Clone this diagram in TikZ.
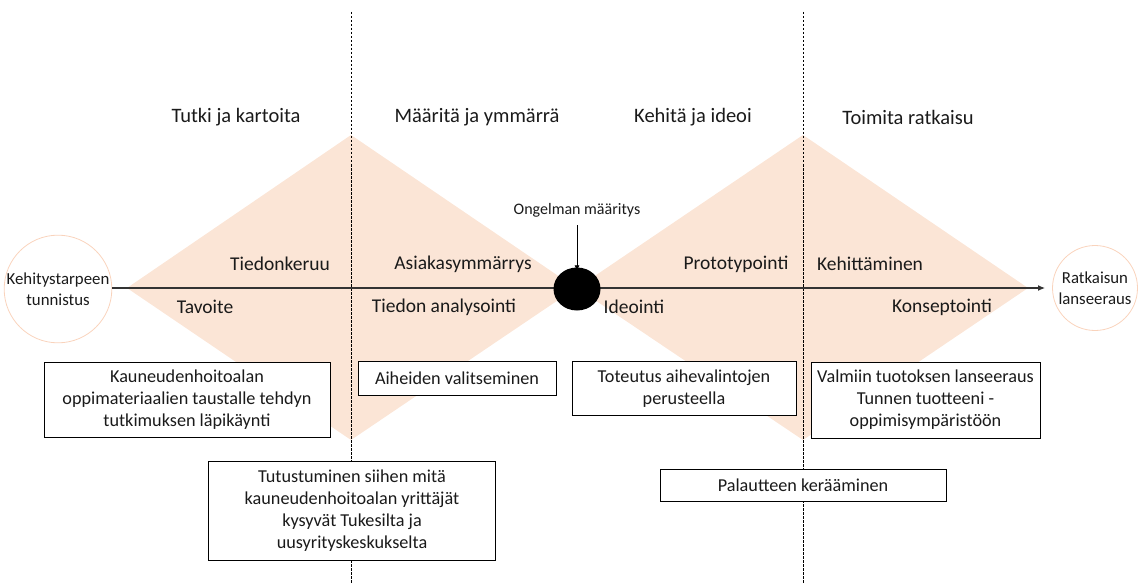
\documentclass[tikz,border=0pt]{standalone}
\usepackage{fontspec}
\setmainfont{Carlito}
\usetikzlibrary{arrows.meta,shapes.geometric}
\definecolor{peach}{HTML}{FBE5D6}
\definecolor{peachline}{HTML}{F9D3BC}
\definecolor{txt}{HTML}{1A1A1A}
\tikzset{
  lbl/.style={font=\fontsize{19.5}{23}\selectfont, text=txt, inner sep=0pt},
  ttl/.style={font=\fontsize{20.5}{24}\selectfont, text=txt, inner sep=0pt},
  boxt/.style={draw=black, line width=0.9pt, fill=white, font=\fontsize{18.2}{22}\selectfont, text=txt, align=center, inner sep=0pt},
  endc/.style={circle, draw=peachline, line width=0.8pt, minimum size=85pt, inner sep=0pt, align=center, font=\fontsize{16.8}{21.5}\selectfont, text=txt},
  divider/.style={black, line width=0.6pt, dash pattern=on 2.5pt off 1.5pt},
}
\begin{document}
\begin{tikzpicture}[x=1pt,y=-1pt]
\useasboundingbox (0,0) rectangle (1138,583);
% diamonds
\fill[peach] (127,288) -- (351,135) -- (576,288) -- (351,440) -- cycle;
\fill[peach] (577,288) -- (803,135) -- (1028,288) -- (803,440) -- cycle;
% dividers
\coordinate (d1t) at (351,12); \coordinate (d1b) at (351,583);
\coordinate (d2t) at (803,12); \coordinate (d2b) at (803,583);
\draw[divider] (d1t) -- (d1b);
\draw[divider] (d2t) -- (d2b);
% end circles
\node[endc] (start) at (58,289) {Kehitystarpeen\\tunnistus};
\node[endc] (finish) at (1095,288) {Ratkaisun\\lanseeraus};
% main line
\coordinate (ls) at (112,288);
\coordinate (le) at (1045,288);
\draw[line width=1.1pt, draw=black!80, -{Latex[length=7pt,width=6pt]}] (ls) -- (le);
% center ellipse
\node[ellipse, fill=black, minimum width=47pt, minimum height=43pt, inner sep=0pt] (prob) at (577,289) {};
\node[font=\fontsize{16}{19}\selectfont, text=txt, inner sep=0pt] (probl) at (577,210) {Ongelman määritys};
\draw[line width=0.8pt, -{Latex[length=6pt,width=5pt]}] ([yshift=-8pt]probl.south) -- ([yshift=-4pt]prob.north);
% phase titles
\node[ttl] (t1) at (236,117) {Tutki ja kartoita};
\node[ttl] (t2) at (477,117) {Määritä ja ymmärrä};
\node[ttl] (t3) at (693,117) {Kehitä ja ideoi};
\node[ttl] (t4) at (908,117) {Toimita ratkaisu};
% labels
\node[lbl] (a1) at (280,264) {Tiedonkeruu};
\node[lbl] (a2) at (463,264) {Asiakasymmärrys};
\node[lbl] (a3) at (736,264) {Prototypointi};
\node[lbl] (a4) at (870,264) {Kehittäminen};
\node[lbl] (b1) at (205,307) {Tavoite};
\node[lbl] (b2) at (444,307) {Tiedon analysointi};
\node[lbl] (b3) at (634,307) {Ideointi};
\node[lbl] (b4) at (942,307) {Konseptointi};
% boxes
\node[boxt, minimum width=286pt, minimum height=75pt] (k1) at (187,399.5) {Kauneudenhoitoalan\\oppimateriaalien taustalle tehdyn\\tutkimuksen läpikäynti};
\node[boxt, minimum width=198pt, minimum height=34pt] (k2) at (457,378) {Aiheiden valitseminen};
\node[boxt, minimum width=224pt, minimum height=54pt] (k3) at (684,388.5) {Toteutus aihevalintojen\\perusteella};
\node[boxt, minimum width=229pt, minimum height=76pt] (k4) at (925.5,400) {Valmiin tuotoksen lanseeraus\\Tunnen tuotteeni -\\oppimisympäristöön};
\node[boxt, minimum width=287pt, minimum height=99pt] (k6) at (352,511) {Tutustuminen siihen mitä\\kauneudenhoitoalan yrittäjät\\kysyvät Tukesilta ja\\uusyrityskeskukselta};
\node[boxt, minimum width=286pt, minimum height=32pt] (k5) at (803,485) {Palautteen kerääminen};
\end{tikzpicture}
\end{document}
